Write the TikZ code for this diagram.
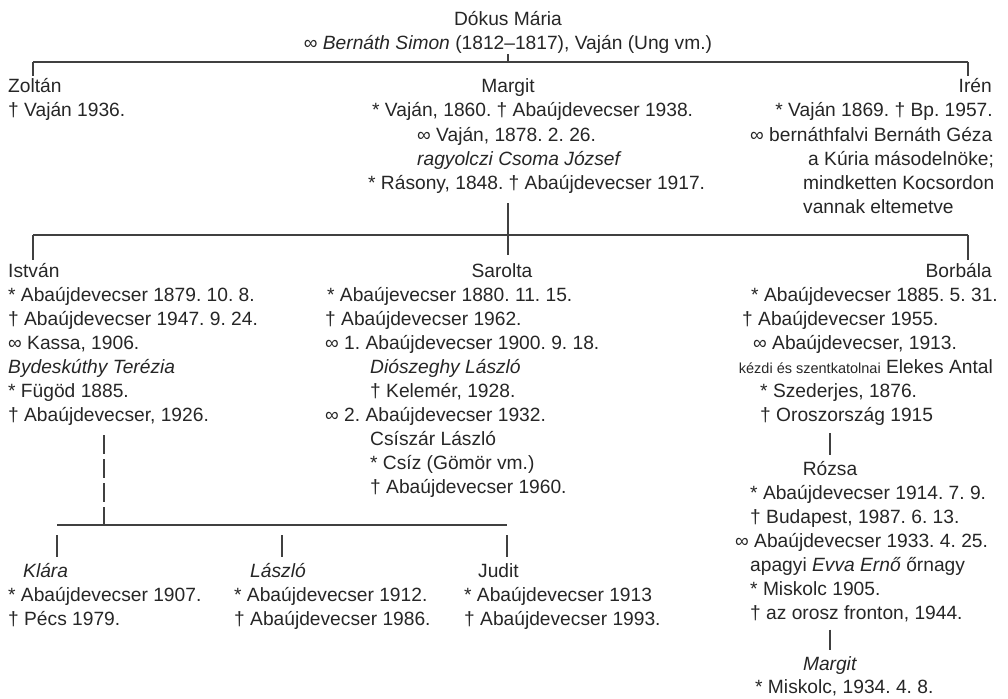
\documentclass[tikz,border=0pt]{standalone}
\usepackage{fontspec}
\setmainfont{Liberation Sans}
\frenchspacing
\begin{document}
\begin{tikzpicture}[x=1pt,y=-1pt,
    every node/.style={inner sep=0pt,text=black!85,font=\fontsize{19.2}{22}\selectfont},
    ln/.style={anchor=base west},
    rn/.style={anchor=base east},
    cn/.style={anchor=base},
    tree/.style={draw=black!75,line width=1.1pt}]
\useasboundingbox (0,0) rectangle (1008,698);

\node[cn] (dokus) at (508,26) {Dókus Mária};
\node[cn] (simon) at (508,50) {∞ \textit{Bernáth Simon} (1812–1817), Vaján (Ung vm.)};
\coordinate (b1w) at (33,62);
\coordinate (b1e) at (968,62);
\draw[tree] (b1w) -- (b1e);
\draw[tree] (simon.south) -- (simon.south |- b1w);

\node[ln] (zoltan) at (8,93) {Zoltán};
\node[ln] (zoltan1) at (8,117) {† Vaján 1936.};
\draw[tree] (b1w) -- ([yshift=3pt]b1w |- zoltan.north);

\node[cn] (margit) at (508,93) {Margit};
\node[ln] (margit1) at (372,117) {* Vaján, 1860. † Abaújdevecser 1938.};
\node[ln] (margit2) at (417,141) {∞ Vaján, 1878. 2. 26.};
\node[ln] (margit3) at (417,165) {\textit{ragyolczi Csoma József}};
\node[ln] (margit4) at (368,189) {* Rásony, 1848. † Abaújdevecser 1917.};

\node[rn] (iren) at (992,93) {Irén};
\node[rn] (iren1) at (993,117) {* Vaján 1869. † Bp. 1957.};
\node[ln] (iren2) at (750,141) {∞ bernáthfalvi Bernáth Géza};
\node[ln] (iren3) at (808,165) {a Kúria másodelnöke;};
\node[ln] (iren4) at (803,189) {mindketten Kocsordon};
\node[ln] (iren5) at (803,213) {vannak eltemetve};
\draw[tree] (b1e) -- ([yshift=3pt]b1e |- iren.north);

\coordinate (b2w) at (33,235);
\coordinate (b2e) at (968,235);
\draw[tree] (b2w) -- (b2e);

\node[ln] (istvan) at (8,277) {István};
\node[ln] (istvan1) at (8,301) {* Abaújdevecser 1879. 10. 8.};
\node[ln] (istvan2) at (8,325) {† Abaújdevecser 1947. 9. 24.};
\node[ln] (istvan3) at (8,349) {∞ Kassa, 1906.};
\node[ln] (istvan4) at (8,373) {\textit{Bydeskúthy Terézia}};
\node[ln] (istvan5) at (8,397) {* Fügöd 1885.};
\node[ln] (istvan6) at (8,421) {† Abaújdevecser, 1926.};
\draw[tree] (b2w) -- ([yshift=3pt]b2w |- istvan.north);

\node[cn] (sarolta) at (502,277) {Sarolta};
\node[ln] (sarolta1) at (327,301) {* Abaújevecser 1880. 11. 15.};
\node[ln] (sarolta2) at (325,325) {† Abaújdevecser 1962.};
\node[ln] (sarolta3) at (325,349) {∞ 1. Abaújdevecser 1900. 9. 18.};
\node[ln] (sarolta4) at (370,373) {\textit{Diószeghy László}};
\node[ln] (sarolta5) at (370,397) {† Kelemér, 1928.};
\node[ln] (sarolta6) at (325,421) {∞ 2. Abaújdevecser 1932.};
\node[ln] (sarolta7) at (370,445) {Csíszár László};
\node[ln] (sarolta8) at (370,469) {* Csíz (Gömör vm.)};
\node[ln] (sarolta9) at (370,493) {† Abaújdevecser 1960.};
\draw[tree] ([yshift=-10pt]margit4.south -| margit) -- ([yshift=8pt]sarolta.north -| margit);

\node[rn] (borbala) at (992,277) {Borbála};
\node[rn] (borbala1) at (998,301) {* Abaújdevecser 1885. 5. 31.};
\node[ln] (borbala2) at (742,325) {† Abaújdevecser 1955.};
\node[ln] (borbala3) at (753,349) {∞ Abaújdevecser, 1913.};
\node[rn] (borbala4) at (993,373) {{\fontsize{14.5}{16}\selectfont kézdi és szentkatolnai} Elekes Antal};
\node[ln] (borbala5) at (760,397) {* Szederjes, 1876.};
\node[ln] (borbala6) at (760,421) {† Oroszország 1915};
\draw[tree] (b2e) -- ([yshift=3pt]b2e |- borbala.north);

\node[cn] (rozsa) at (830,475) {Rózsa};
\node[ln] (rozsa1) at (750,499) {* Abaújdevecser 1914. 7. 9.};
\node[ln] (rozsa2) at (750,523) {† Budapest, 1987. 6. 13.};
\node[ln] (rozsa3) at (735,547) {∞ Abaújdevecser 1933. 4. 25.};
\node[ln] (rozsa4) at (750,571) {apagyi \textit{Evva Ernő} őrnagy};
\node[ln] (rozsa5) at (750,595) {* Miskolc 1905.};
\node[ln] (rozsa6) at (750,619) {† az orosz fronton, 1944.};
\draw[tree] ([yshift=-8pt]borbala6.south -| rozsa) -- ([yshift=6pt]rozsa.north);

\node[cn] (margitb) at (830,670) {\textit{Margit}};
\node[ln] (margitb1) at (755,693) {* Miskolc, 1934. 4. 8.};
\draw[tree] ([yshift=-8pt]rozsa6.south -| rozsa) -- ([yshift=6pt]margitb.north);

\coordinate (b3k) at (104,525);
\coordinate (b3w) at (57,525);
\coordinate (b3m) at (282,525);
\coordinate (b3e) at (507,525);
\draw[tree,dash pattern=on 19pt off 5pt] ([yshift=-10pt]istvan6.south -| b3k) -- (b3k);
\draw[tree] (b3w) -- (b3e);

\node[ln] (klara) at (23,577) {\textit{Klára}};
\node[ln] (klara1) at (8,601) {* Abaújdevecser 1907.};
\node[ln] (klara2) at (8,625) {† Pécs 1979.};
\draw[tree] ([yshift=-10pt]b3w) -- ([yshift=6pt]b3w |- klara.north);

\node[ln] (laszlo) at (250,577) {\textit{László}};
\node[ln] (laszlo1) at (234,601) {* Abaújdevecser 1912.};
\node[ln] (laszlo2) at (234,625) {† Abaújdevecser 1986.};
\draw[tree] ([yshift=-10pt]b3m) -- ([yshift=6pt]b3m |- laszlo.north);

\node[ln] (judit) at (478,577) {Judit};
\node[ln] (judit1) at (464,601) {* Abaújdevecser 1913};
\node[ln] (judit2) at (464,625) {† Abaújdevecser 1993.};
\draw[tree] ([yshift=-10pt]b3e) -- ([yshift=6pt]b3e |- judit.north);
\end{tikzpicture}
\end{document}
